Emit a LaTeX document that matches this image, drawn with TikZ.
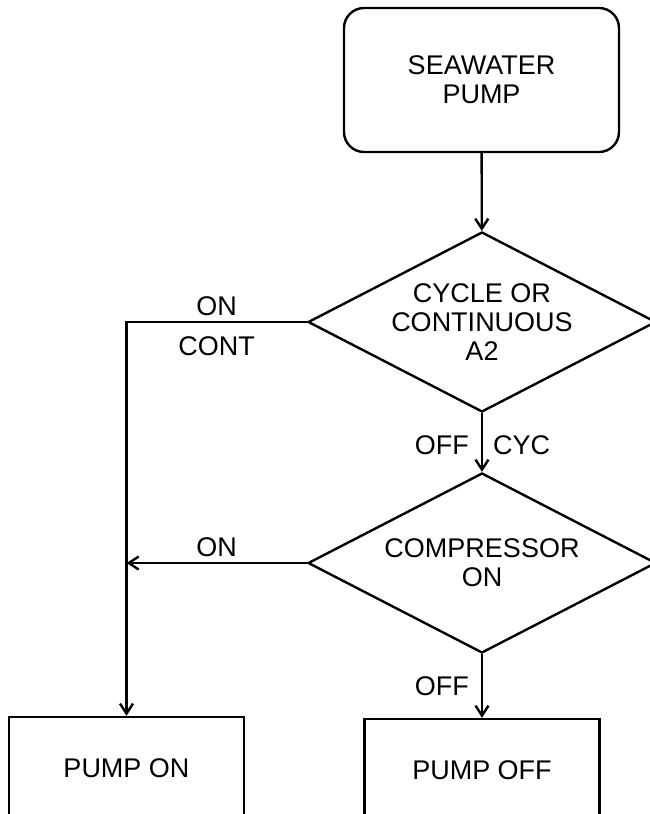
\documentclass[tikz,border=0pt]{standalone}
\usepackage{fontspec}
\setmainfont{Liberation Sans}
\usetikzlibrary{shapes.geometric,arrows.meta}

\tikzset{
  flowfont/.style={font=\fontsize{27}{29}\selectfont},
  startbox/.style={draw, line width=2.4pt, rounded corners=20pt, align=center,
    minimum width=275pt, minimum height=144pt, flowfont},
  decision/.style={draw, diamond, aspect=2, inner sep=0pt, line width=2.4pt,
    align=center, minimum width=348pt, minimum height=180pt, flowfont},
  actionbox/.style={draw, line width=2.4pt, minimum width=235pt,
    minimum height=102pt, flowfont},
  flowline/.style={line width=2.4pt, -{Straight Barb[length=10pt,width=13pt]}},
  flowlabel/.style={flowfont, inner sep=5pt}
}

\begin{document}
\begin{tikzpicture}[x=1pt, y=-1pt]
  \useasboundingbox (0,0) rectangle (649,814);

  % boxes and decisions
  \node[startbox] (seapump) at (481.5,80) {SEAWATER\\PUMP};
  \node[decision] (modecheck) at (482,322) {CYCLE OR\\CONTINUOUS\\A2};
  \node[decision] (compcheck) at (482,563) {COMPRESSOR\\ON};
  \node[actionbox] (pumpon) at (126.5,768) {PUMP ON};
  \node[actionbox] (pumpoff) at (482,770) {PUMP OFF};

  % connectors
  \draw[flowline] (seapump) -- (modecheck);
  \draw[flowline] (modecheck) -- node[flowlabel, left=7pt, pos=0.55] {OFF}
    node[flowlabel, right=5pt, pos=0.55] {CYC} (compcheck);
  \draw[flowline] (compcheck) -- node[flowlabel, left=7pt] {OFF} (pumpoff);
  \coordinate (contbend) at (modecheck.west -| pumpon.north);
  \draw[flowline] (modecheck.west) -- node[flowlabel, above] {ON}
    node[flowlabel, below=8pt] {CONT} (contbend) -- (pumpon.north);
  \draw[flowline] (compcheck.west) -- node[flowlabel, above] {ON}
    (compcheck.west -| pumpon.north);
\end{tikzpicture}
\end{document}
